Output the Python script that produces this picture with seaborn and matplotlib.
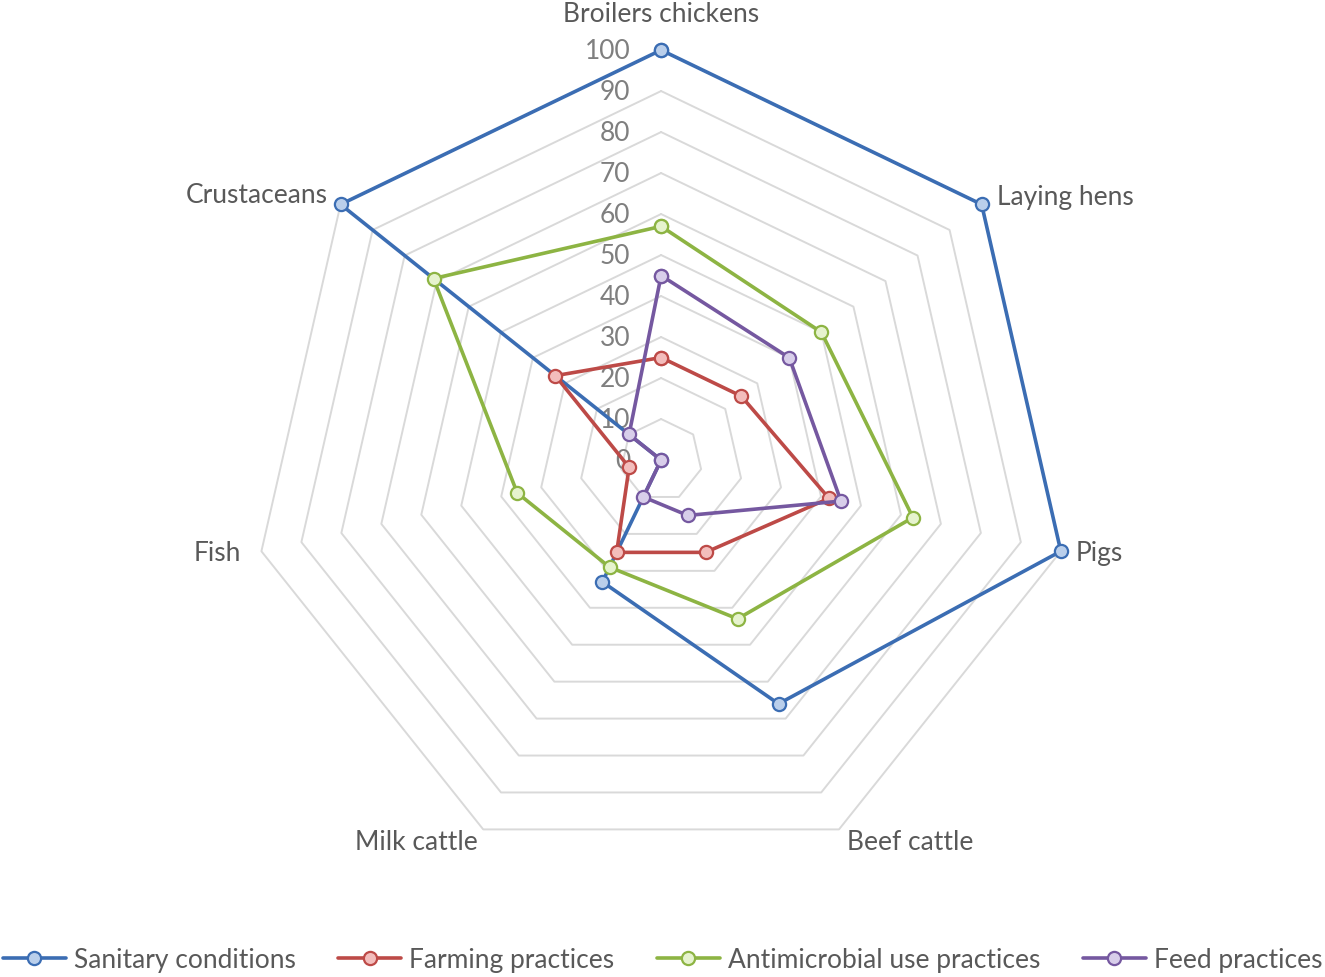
import numpy as np
import pandas as pd
import matplotlib
matplotlib.use("Agg")
import matplotlib.pyplot as plt
import seaborn as sns

categories = ["Broilers chickens", "Laying hens", "Pigs", "Beef cattle",
              "Milk cattle", "Fish", "Crustaceans"]
sanitary = [100, 100, 100, 66, 33, 0, 100]
farming = [25, 25, 42, 25, 25, 8, 33]
antimicrobial = [57, 50, 63, 43, 29, 36, 71]
feed = [45, 40, 45, 15, 10, 0, 10]
series_names = ["Sanitary conditions", "Farming practices",
                "Antimicrobial use practices", "Feed practices"]
radial_ticks = list(range(0, 101, 10))

line_colors = ["#3B6DB3", "#BD4A47", "#8DB443", "#7558A0"]
face_colors = ["#BACFEB", "#F3BDBC", "#E6F3CE", "#D8CEEA"]

sns.set_theme(style="white")
plt.rcParams["font.family"] = ["Lato", "DejaVu Sans"]
txt_color = "#595959"

n = len(categories)
angles = np.linspace(0, 2 * np.pi, n, endpoint=False)
closed = np.append(angles, 2 * np.pi)

fig = plt.figure(figsize=(13.25, 9.78), dpi=100)
ax = fig.add_axes([0.1895, 0.1094, 0.6189, 0.8384], projection="polar")
ax.set_theta_offset(np.pi / 2)
ax.set_theta_direction(-1)
ax.set_ylim(0, 100)
ax.grid(False)
ax.set_xticks([])
ax.set_yticks([])
ax.spines["polar"].set_visible(False)
ax.set_facecolor("none")

# heptagon gridlines
for lvl in radial_ticks[1:]:
    ax.plot(closed, [lvl] * (n + 1), color="#D9D9D9", lw=1.4, zorder=1,
            clip_on=False)

for name, vals, lc, fc in zip(series_names,
                              [sanitary, farming, antimicrobial, feed],
                              line_colors, face_colors):
    df = pd.DataFrame({"theta": closed, "value": vals + [vals[0]]})
    sns.lineplot(data=df, x="theta", y="value", sort=False, estimator=None,
                 ax=ax, color=lc, lw=2.6, marker="o", markersize=9.5,
                 markerfacecolor=fc, markeredgecolor=lc, markeredgewidth=1.6,
                 label=name, zorder=3, clip_on=False)
ax.set_xlabel("")
ax.set_ylabel("")
ax.get_legend().remove()

# radial tick labels
for v in radial_ticks:
    ax.annotate(str(v), xy=(0, v), xytext=(-22, 0), textcoords="offset points",
                ha="right", va="center", fontsize=19, color="#7F7F7F", zorder=2)

# category labels
offsets = [(0, 26, "center"), (11, 6, "left"), (11, -1, "left"),
           (6, -9, "left"), (-4, -9, "right"), (-15, -1, "right"),
           (-9, 7, "right")]
for ang, cat, (dx, dy, ha) in zip(angles, categories, offsets):
    ax.annotate(cat, xy=(ang, 100), xytext=(dx, dy), textcoords="offset points",
                ha=ha, va="center", fontsize=19, color=txt_color)

handles, labels = ax.get_legend_handles_labels()
fig.legend(handles, labels, loc="center", bbox_to_anchor=(0.5, 0.018),
           ncol=4, frameon=False, fontsize=19, handlelength=2.4,
           columnspacing=1.6, handletextpad=0.3, labelcolor=txt_color)

fig.savefig("out.png", dpi=100)
